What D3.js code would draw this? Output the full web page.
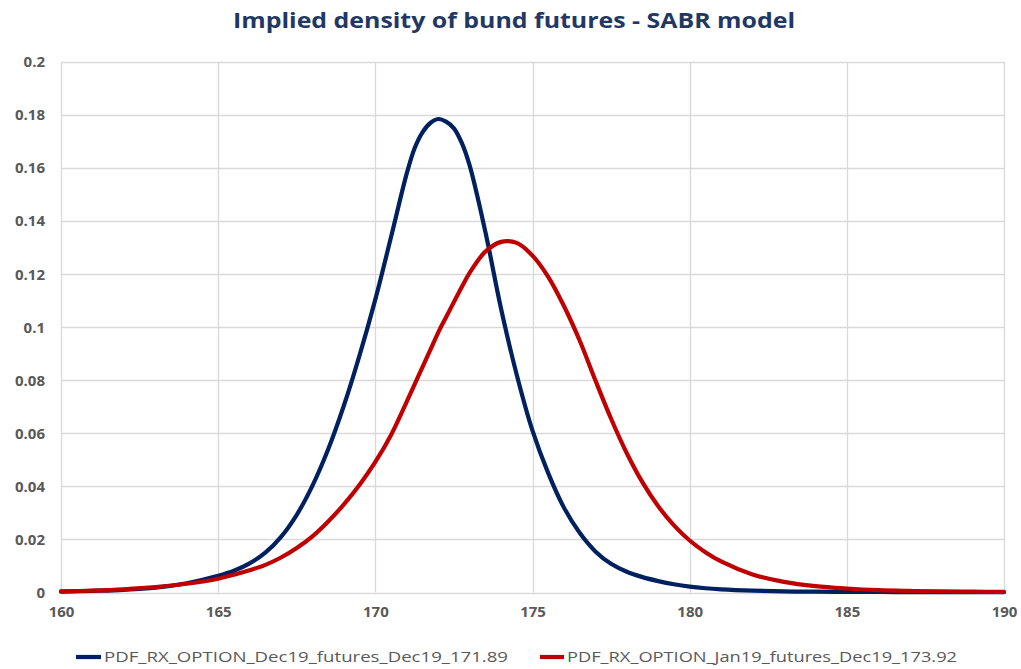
<!DOCTYPE html>
<html>
<head>
<meta charset="utf-8">
<script src="https://cdn.jsdelivr.net/npm/d3@7/dist/d3.min.js"></script>
<style>
  html, body { margin: 0; padding: 0; background: #ffffff; }
  svg { display: block; }
</style>
</head>
<body>
<svg id="chart" width="1021" height="669"></svg>
<script>
const titleText = "Implied density of bund futures - SABR model";
const seriesNames = ["PDF_RX_OPTION_Dec19_futures_Dec19_171.89", "PDF_RX_OPTION_Jan19_futures_Dec19_173.92"];
const xValues = [160,161,162,163,164,165,165.5,166,166.5,167,167.5,168,168.5,169,169.5,170,170.5,171,171.25,171.5,171.75,172,172.25,172.5,172.75,173,173.5,174,174.5,175,175.5,176,176.5,177,177.5,178,178.5,179,179.5,180,180.5,181,182,183,184,185,186,187,188,189,190];
const blueValues = [0.0003,0.0006,0.001,0.0018,0.0035,0.0063,0.0082,0.0110,0.0150,0.021,0.0293,0.0403,0.054,0.0705,0.0895,0.1105,0.134,0.158,0.1675,0.1735,0.177,0.1785,0.1775,0.175,0.1695,0.161,0.136,0.107,0.082,0.061,0.045,0.032,0.0225,0.0155,0.0108,0.0078,0.0058,0.0043,0.0031,0.0022,0.0016,0.0012,0.0007,0.0004,0.0003,0.0002,0.0002,0.0001,0.0001,0.0001,0.0001];
const redValues = [0.0004,0.0007,0.0012,0.002,0.0033,0.0052,0.0067,0.0084,0.0104,0.0132,0.0168,0.0212,0.0268,0.0332,0.0406,0.0492,0.0594,0.072,0.0785,0.085,0.0915,0.098,0.1038,0.1095,0.1152,0.1205,0.1285,0.1322,0.1318,0.127,0.119,0.108,0.095,0.080,0.0655,0.0525,0.0415,0.0325,0.0253,0.0196,0.0152,0.0117,0.0068,0.0040,0.0024,0.0015,0.0009,0.0006,0.0004,0.0003,0.0002];
const xTicks = [160,165,170,175,180,185,190];
const yTicks = [0,0.02,0.04,0.06,0.08,0.1,0.12,0.14,0.16,0.18,0.2];
const colors = ["#002060", "#C00000"];

const svg = d3.select("#chart");
const plot = {left: 61, right: 1004, top: 62, bottom: 592.5};

const x = d3.scaleLinear().domain([160,190]).range([plot.left, plot.right]);
const y = d3.scaleLinear().domain([0,0.2]).range([plot.bottom, plot.top]);

const font = "'Open Sans', 'Liberation Sans', sans-serif";

// gridlines
const grid = svg.append("g");
grid.selectAll("line.h").data(yTicks).enter().append("line")
  .attr("x1", plot.left).attr("x2", plot.right)
  .attr("y1", d => Math.round(y(d)) + 0.5).attr("y2", d => Math.round(y(d)) + 0.5)
  .attr("stroke", "#D9D9D9").attr("stroke-width", 1.3);
grid.selectAll("line.v").data(xTicks).enter().append("line")
  .attr("y1", plot.top).attr("y2", plot.bottom)
  .attr("x1", d => Math.round(x(d)) + 0.5).attr("x2", d => Math.round(x(d)) + 0.5)
  .attr("stroke", "#D9D9D9").attr("stroke-width", 1.3);

// axes
const yAxis = d3.axisLeft(y).tickValues(yTicks).tickSize(0).tickPadding(16).tickFormat(d => d3.format("")(+d.toFixed(2)));
const gy = svg.append("g").attr("transform", `translate(${plot.left},0)`).call(yAxis);
gy.select(".domain").remove();
gy.selectAll("text").attr("font-family", font).attr("font-size", 15).attr("font-weight", "bold").attr("fill", "#595959");

const xAxis = d3.axisBottom(x).tickValues(xTicks).tickSize(0).tickPadding(14).tickFormat(d3.format("d"));
const gx = svg.append("g").attr("transform", `translate(0,${plot.bottom})`).call(xAxis);
gx.select(".domain").remove();
gx.selectAll("text").attr("font-family", font).attr("font-size", 15).attr("font-weight", "bold").attr("fill", "#595959");

// lines
const line = d3.line().x((d,i) => x(xValues[i])).y(d => y(d)).curve(d3.curveCatmullRom.alpha(0.5));
[blueValues, redValues].forEach((vals, i) => {
  svg.append("path").datum(vals)
    .attr("d", line)
    .attr("fill", "none")
    .attr("stroke", colors[i])
    .attr("stroke-width", 4.2)
    .attr("stroke-linejoin", "round")
    .attr("stroke-linecap", "round");
});

// title
svg.append("text")
  .attr("x", 514).attr("y", 28)
  .attr("text-anchor", "middle")
  .attr("font-family", font).attr("font-size", 22).attr("font-weight", "bold")
  .attr("fill", "#1F3864")
  .attr("textLength", 562).attr("lengthAdjust", "spacingAndGlyphs")
  .text(titleText);

// legend
const legendItems = [
  {lx1: 76, lx2: 101, tx: 104, tw: 404},
  {lx1: 540, lx2: 564, tx: 567, tw: 390}
];
legendItems.forEach((it, i) => {
  svg.append("line").attr("x1", it.lx1).attr("x2", it.lx2).attr("y1", 657).attr("y2", 657)
    .attr("stroke", colors[i]).attr("stroke-width", 4.2);
  svg.append("text").attr("x", it.tx).attr("y", 662)
    .attr("font-family", font).attr("font-size", 15).attr("fill", "#595959")
    .attr("textLength", it.tw).attr("lengthAdjust", "spacingAndGlyphs")
    .text(seriesNames[i]);
});
</script>
</body>
</html>
